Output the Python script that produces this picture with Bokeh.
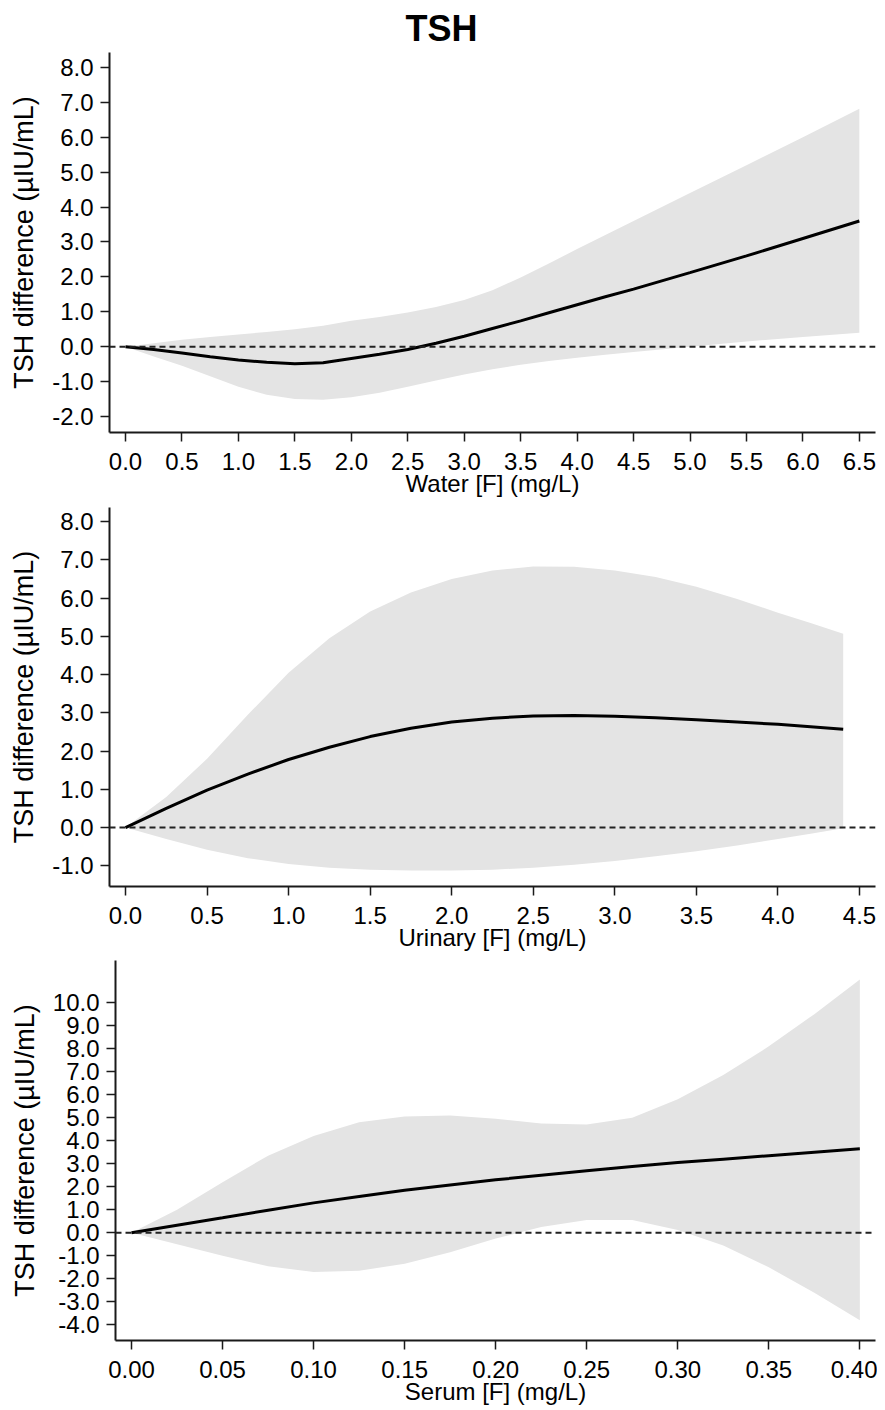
from bokeh.plotting import figure
from bokeh.layouts import column, row, Spacer
from bokeh.models import Range1d, FixedTicker, NumeralTickFormatter, Span
from bokeh.embed import file_html
from bokeh.resources import INLINE

# ---------------- data ----------------
water_x = [0, 0.25, 0.5, 0.75, 1.0, 1.25, 1.5, 1.75, 2.0, 2.25, 2.5, 2.75, 3.0, 3.25, 3.5, 3.75, 4.0, 4.25, 4.5, 5.0, 5.5, 6.0, 6.5]
water_est = [0, -0.08, -0.18, -0.29, -0.38, -0.45, -0.49, -0.46, -0.34, -0.22, -0.08, 0.1, 0.3, 0.52, 0.74, 0.97, 1.2, 1.43, 1.65, 2.12, 2.6, 3.1, 3.6]
water_hi = [0, 0.1, 0.2, 0.28, 0.35, 0.42, 0.5, 0.6, 0.74, 0.85, 0.98, 1.14, 1.34, 1.62, 1.98, 2.38, 2.8, 3.2, 3.6, 4.4, 5.2, 6.0, 6.82]
water_lo = [0, -0.28, -0.55, -0.85, -1.15, -1.38, -1.5, -1.52, -1.45, -1.32, -1.15, -0.97, -0.8, -0.65, -0.52, -0.41, -0.32, -0.23, -0.15, 0.0, 0.15, 0.28, 0.4]

urin_x = [0, 0.25, 0.5, 0.75, 1.0, 1.25, 1.5, 1.75, 2.0, 2.25, 2.5, 2.75, 3.0, 3.25, 3.5, 3.75, 4.0, 4.2, 4.4]
urin_est = [0, 0.5, 0.98, 1.4, 1.78, 2.1, 2.38, 2.6, 2.76, 2.86, 2.92, 2.93, 2.91, 2.87, 2.82, 2.76, 2.7, 2.64, 2.57]
urin_hi = [0, 0.8, 1.8, 2.95, 4.05, 4.95, 5.65, 6.15, 6.5, 6.72, 6.83, 6.82, 6.72, 6.55, 6.3, 5.98, 5.62, 5.35, 5.07]
urin_lo = [0, -0.3, -0.58, -0.8, -0.95, -1.05, -1.1, -1.12, -1.12, -1.1, -1.05, -0.97, -0.87, -0.75, -0.62, -0.47, -0.3, -0.16, -0.02]

serum_x = [0, 0.025, 0.05, 0.075, 0.1, 0.125, 0.15, 0.175, 0.2, 0.225, 0.25, 0.275, 0.3, 0.325, 0.35, 0.375, 0.4]
serum_est = [0, 0.33, 0.65, 0.98, 1.3, 1.58, 1.85, 2.08, 2.3, 2.5, 2.7, 2.88, 3.05, 3.2, 3.35, 3.5, 3.65]
serum_hi = [0, 1.0, 2.2, 3.35, 4.2, 4.8, 5.05, 5.1, 4.95, 4.75, 4.7, 5.0, 5.8, 6.85, 8.1, 9.5, 11.0]
serum_lo = [0, -0.5, -1.0, -1.45, -1.7, -1.65, -1.35, -0.85, -0.25, 0.25, 0.55, 0.55, 0.12, -0.55, -1.5, -2.6, -3.8]

water_xticks = [0, 0.5, 1.0, 1.5, 2.0, 2.5, 3.0, 3.5, 4.0, 4.5, 5.0, 5.5, 6.0, 6.5]
water_yticks = [-2, -1, 0, 1, 2, 3, 4, 5, 6, 7, 8]
urin_xticks = [0, 0.5, 1.0, 1.5, 2.0, 2.5, 3.0, 3.5, 4.0, 4.5]
urin_yticks = [-1, 0, 1, 2, 3, 4, 5, 6, 7, 8]
serum_xticks = [0, 0.05, 0.10, 0.15, 0.20, 0.25, 0.30, 0.35, 0.40]
serum_yticks = [-4, -3, -2, -1, 0, 1, 2, 3, 4, 5, 6, 7, 8, 9, 10]

title_text = "TSH"
y_label = "TSH difference (µIU/mL)"
x_labels = ["Water [F] (mg/L)", "Urinary [F] (mg/L)", "Serum [F] (mg/L)"]

FONT = "Liberation Sans"
BAND = "#e4e4e4"


def make_panel(x, est, lo, hi, xr, yr, xticks, yticks, xfmt, xlabel,
               width, height, left, top, bottom):
    p = figure(width=width, height=height, x_range=Range1d(*xr), y_range=Range1d(*yr),
               output_backend="svg", toolbar_location=None,
               min_border_left=left, min_border_right=2,
               min_border_top=top, min_border_bottom=bottom)
    p.outline_line_color = None
    p.xgrid.visible = False
    p.ygrid.visible = False
    p.background_fill_color = "white"
    p.border_fill_color = "white"

    p.varea(x=x, y1=lo, y2=hi, fill_color=BAND, fill_alpha=1.0)
    p.add_layout(Span(location=0, dimension="width", line_color="#222222",
                      line_width=2, line_dash="6 4"))
    p.line(x, est, line_color="black", line_width=3)

    for ax in (p.xaxis[0], p.yaxis[0]):
        ax.axis_line_width = 2
        ax.axis_line_color = "#1a1a1a"
        ax.major_tick_line_width = 1.5
        ax.major_tick_line_color = "#1a1a1a"
        ax.major_tick_out = 9
        ax.major_tick_in = 0
        ax.minor_tick_line_color = None
        ax.major_label_text_font = FONT
        ax.major_label_text_font_size = "24px"
        ax.major_label_text_color = "black"
        ax.axis_label_text_font = FONT
        ax.axis_label_text_font_style = "normal"
        ax.axis_label_text_color = "black"

    p.xaxis[0].ticker = FixedTicker(ticks=xticks)
    p.xaxis[0].formatter = NumeralTickFormatter(format=xfmt)
    p.xaxis[0].major_label_standoff = 11
    p.xaxis[0].axis_label = xlabel
    p.xaxis[0].axis_label_text_font_size = "24px"
    p.xaxis[0].axis_label_standoff = -3

    p.yaxis[0].ticker = FixedTicker(ticks=yticks)
    p.yaxis[0].formatter = NumeralTickFormatter(format="0.0")
    p.yaxis[0].major_label_standoff = 7
    p.yaxis[0].axis_label = y_label
    p.yaxis[0].axis_label_text_font_size = "27px"
    p.yaxis[0].axis_label_standoff = 10
    return p


p1 = make_panel(water_x, water_est, water_lo, water_hi, (-0.142, 6.643), (-2.46, 8.43),
                water_xticks, water_yticks, "0.0", x_labels[0], 877, 503, 109, 52, 71)
p2 = make_panel(urin_x, urin_est, urin_lo, urin_hi, (-0.098, 4.598), (-1.54, 8.37),
                urin_xticks, urin_yticks, "0.0", x_labels[1], 877, 454, 109, 4, 71)
p3 = make_panel(serum_x, serum_est, serum_lo, serum_hi, (-0.0088, 0.4086), (-4.68, 11.83),
                serum_xticks, serum_yticks, "0.00", x_labels[2], 871, 450, 109, 3, 66)

p1.title.text = title_text
p1.title.align = "left"
p1.title.offset = 296
p1.title.standoff = 8
p1.title.text_font = FONT
p1.title.text_font_size = "36px"
p1.title.text_font_style = "bold"
p1.title.text_color = "black"

layout = column(p1, p2, row(Spacer(width=6, height=450), p3, spacing=0), spacing=0)
open("out.html", "w").write(file_html(layout, INLINE))
